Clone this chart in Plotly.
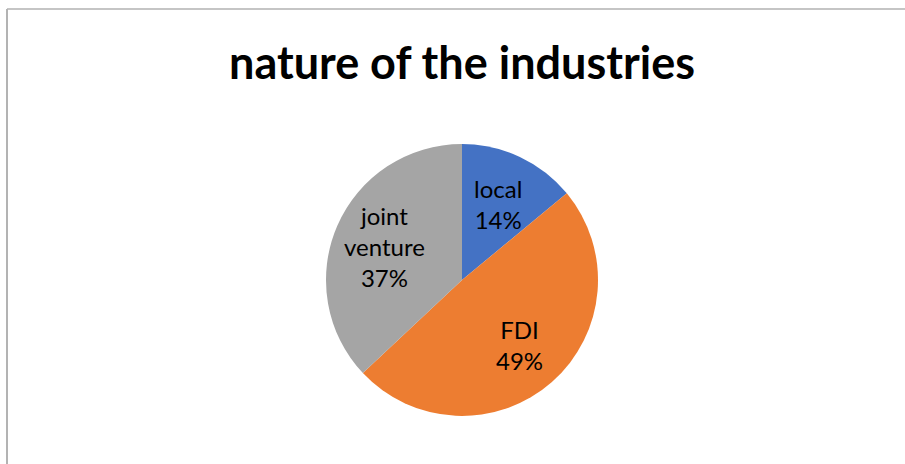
import math
import plotly.graph_objects as go

# Share of industries by ownership type
categories = ["local", "FDI", "joint venture"]
label_lines = ["local", "FDI", "joint<br>venture"]
shares = [14, 49, 37]
colors = ["#4472C4", "#ED7D31", "#A5A5A5"]

W, H = 905, 464
cx, cy, r = 462, 280, 136  # pie centre and radius in pixels

fig = go.Figure(
    go.Pie(
        labels=categories,
        values=shares,
        sort=False,
        direction="clockwise",
        rotation=0,
        marker=dict(colors=colors, line=dict(width=0)),
        textinfo="none",
        hoverinfo="label+percent",
        showlegend=False,
        domain=dict(
            x=[(cx - r) / W, (cx + r) / W],
            y=[(H - cy - r) / H, (H - cy + r) / H],
        ),
    )
)

# Data labels placed along each slice's mid-angle
total = sum(shares)
label_radius = [0.62, 0.64, 0.62]
annotations = []
cum = 0
for name, lines, v, lr in zip(categories, label_lines, shares, label_radius):
    mid = (cum + v / 2) / total * 2 * math.pi
    cum += v
    px = cx + lr * r * math.sin(mid)
    py = cy - lr * r * math.cos(mid)
    annotations.append(
        dict(
            x=px / W,
            y=1 - py / H,
            xref="paper",
            yref="paper",
            xanchor="center",
            yanchor="middle",
            text=f"{lines}<br>{round(v / total * 100)}%",
            showarrow=False,
            align="center",
            font=dict(family="Lato", size=24, color="#000000"),
        )
    )

annotations.append(
    dict(
        x=462 / W,
        y=1 - 62 / H,
        xref="paper",
        yref="paper",
        xanchor="center",
        yanchor="middle",
        text="<b>nature of the industries</b>",
        showarrow=False,
        font=dict(family="Lato", size=45, color="#000000"),
    )
)

fig.update_layout(
    width=W,
    height=H,
    margin=dict(l=0, r=0, t=0, b=0),
    paper_bgcolor="#FFFFFF",
    plot_bgcolor="#FFFFFF",
    annotations=annotations,
    shapes=[
        dict(type="line", xref="paper", yref="paper",
             x0=7 / W, x1=1, y0=1 - 9 / H, y1=1 - 9 / H,
             line=dict(color="#8C8C8C", width=1.2)),
        dict(type="line", xref="paper", yref="paper",
             x0=7 / W, x1=7 / W, y0=0, y1=1 - 9 / H,
             line=dict(color="#B3B3B3", width=2)),
    ],
)

fig.write_html("out.html")
